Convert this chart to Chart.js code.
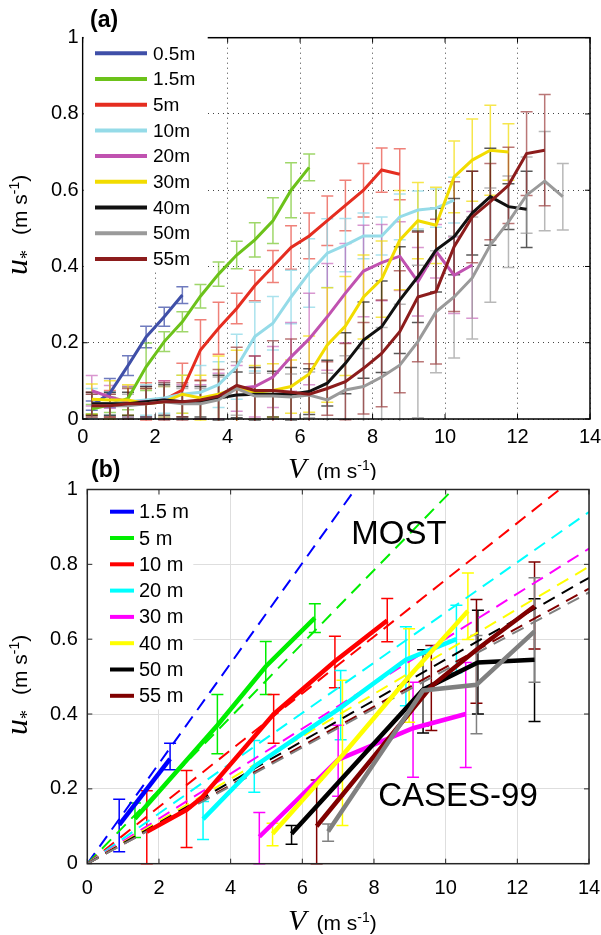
<!DOCTYPE html>
<html>
<head>
<meta charset="utf-8">
<script src="https://cdn.jsdelivr.net/npm/chart.js@4.4.1/dist/chart.umd.min.js"></script>
<style>
  body { margin: 0; background: #fff; }
  #wrap { position: relative; width: 601px; height: 935px; }
  canvas { position: absolute; left: 0; }
  #chartA { top: 0; }
  #chartB { top: 445px; }
</style>
</head>
<body>
<div id="wrap">
  <canvas id="chartA" width="601" height="480"></canvas>
  <canvas id="chartB" width="601" height="490"></canvas>
</div>
<script>
const FONT = '"Liberation Sans", Arial, Helvetica, sans-serif';
const SERIF = '"Liberation Serif", "Times New Roman", serif';

// ---------- panel (a): bin averaged u* vs V ----------
const binV = [0.25, 0.75, 1.25, 1.75, 2.25, 2.75, 3.25, 3.75, 4.25, 4.75, 5.25, 5.75, 6.25, 6.75,
              7.25, 7.75, 8.25, 8.75, 9.25, 9.75, 10.25, 10.75, 11.25, 11.75, 12.25, 12.75, 13.25];
const labelsA = ['0.5m', '1.5m', '5m', '10m', '20m', '30m', '40m', '50m', '55m'];
const colorsA = ['#3f4fa8', '#6cc21a', '#e52d20', '#95dbe8', '#c052b0', '#f2dc00', '#111111', '#9a9a9a', '#8c1c1c'];
const errColorsA = ['rgba(63,79,168,0.75)', 'rgba(108,194,26,0.65)', 'rgba(229,45,32,0.6)', 'rgba(149,219,232,0.8)',
                    'rgba(192,82,176,0.6)', 'rgba(242,220,0,0.7)', 'rgba(17,17,17,0.7)', 'rgba(154,154,154,0.7)', 'rgba(140,28,28,0.6)'];

const u05 = [0.035, 0.068, 0.14, 0.215, 0.268, 0.325];
const e05 = [0.012, 0.038, 0.026, 0.028, 0.025, 0.022];
const u15 = [0.026, 0.037, 0.054, 0.137, 0.203, 0.255, 0.322, 0.38, 0.43, 0.47, 0.52, 0.6, 0.66];
const e15 = [0.012, 0.02, 0.03, 0.062, 0.026, 0.026, 0.031, 0.032, 0.036, 0.045, 0.06, 0.072, 0.035];
const u5  = [0.04, 0.04, 0.045, 0.045, 0.05, 0.076, 0.181, 0.238, 0.29, 0.35, 0.4, 0.45, 0.48, 0.52, 0.56, 0.6, 0.653, 0.642];
const e5  = [0.03, 0.035, 0.04, 0.05, 0.05, 0.07, 0.079, 0.068, 0.04, 0.04, 0.042, 0.057, 0.06, 0.065, 0.066, 0.07, 0.058, 0.067];
const u10 = [0.04, 0.04, 0.045, 0.05, 0.055, 0.065, 0.07, 0.09, 0.137, 0.216, 0.251, 0.32, 0.383, 0.435, 0.456, 0.48, 0.48, 0.53, 0.548, 0.553, 0.574];
const e10 = [0.04, 0.03, 0.04, 0.04, 0.04, 0.05, 0.07, 0.06, 0.085, 0.09, 0.07, 0.07, 0.09, 0.09, 0.07, 0.06, 0.05, 0.06, 0.05, 0.05, 0.06];
const u20 = [0.074, 0.058, 0.045, 0.045, 0.05, 0.045, 0.045, 0.06, 0.08, 0.085, 0.11, 0.163, 0.21, 0.268, 0.33, 0.388, 0.41, 0.427, 0.36, 0.44, 0.377, 0.404];
const e20 = [0.04, 0.03, 0.04, 0.04, 0.05, 0.045, 0.045, 0.06, 0.06, 0.08, 0.08, 0.09, 0.12, 0.14, 0.13, 0.12, 0.1, 0.09, 0.09, 0.07, 0.1, 0.14];
const u30 = [0.052, 0.05, 0.05, 0.04, 0.045, 0.065, 0.055, 0.065, 0.08, 0.07, 0.075, 0.085, 0.118, 0.194, 0.244, 0.32, 0.367, 0.469, 0.52, 0.508, 0.635, 0.679, 0.705, 0.7];
const e30 = [0.04, 0.05, 0.04, 0.04, 0.04, 0.05, 0.06, 0.1, 0.1, 0.07, 0.07, 0.07, 0.1, 0.15, 0.13, 0.11, 0.1, 0.13, 0.1, 0.1, 0.094, 0.108, 0.118, 0.074];
const u40 = [0.04, 0.04, 0.04, 0.045, 0.05, 0.045, 0.045, 0.055, 0.063, 0.065, 0.065, 0.065, 0.072, 0.094, 0.146, 0.207, 0.242, 0.312, 0.373, 0.443, 0.478, 0.54, 0.583, 0.557, 0.55];
const e40 = [0.03, 0.03, 0.03, 0.04, 0.04, 0.04, 0.04, 0.06, 0.06, 0.07, 0.06, 0.07, 0.06, 0.06, 0.08, 0.1, 0.12, 0.14, 0.12, 0.11, 0.1, 0.11, 0.127, 0.06, 0.1];
const u50 = [0.035, 0.035, 0.035, 0.04, 0.045, 0.04, 0.04, 0.05, 0.08, 0.06, 0.06, 0.058, 0.063, 0.05, 0.076, 0.085, 0.11, 0.141, 0.203, 0.281, 0.32, 0.37, 0.456, 0.517, 0.587, 0.624, 0.583];
const e50 = [0.03, 0.03, 0.03, 0.04, 0.04, 0.04, 0.04, 0.06, 0.07, 0.06, 0.06, 0.06, 0.06, 0.07, 0.09, 0.1, 0.13, 0.16, 0.2, 0.16, 0.16, 0.16, 0.15, 0.12, 0.1, 0.13, 0.087];
const u55 = [0.035, 0.035, 0.04, 0.04, 0.045, 0.045, 0.05, 0.06, 0.088, 0.075, 0.075, 0.07, 0.065, 0.08, 0.098, 0.133, 0.172, 0.229, 0.32, 0.334, 0.452, 0.53, 0.57, 0.613, 0.696, 0.705];
const e55 = [0.03, 0.03, 0.04, 0.04, 0.05, 0.05, 0.05, 0.07, 0.1, 0.09, 0.13, 0.14, 0.08, 0.07, 0.1, 0.12, 0.14, 0.16, 0.17, 0.19, 0.17, 0.12, 0.1, 0.1, 0.11, 0.146];

const uA = [u05, u15, u5, u10, u20, u30, u40, u50, u55];
const eA = [e05, e15, e5, e10, e20, e30, e40, e50, e55];

// ---------- panel (b): CASES-99 (solid) and MOST (dashed) ----------
const labelsB = ['1.5 m', '5 m', '10 m', '20 m', '30 m', '40 m', '50 m', '55 m', ''];
const colorsB = ['#0000ff', '#00ee00', '#ff0000', '#00ffff', '#ff00ff', '#ffff00', '#000000', '#800000', '#808080'];

// MOST lines start at the origin; end point where they leave the axes
const mostEndV = [7.47, 10.2, 13.18, 14, 14, 14, 14, 14, 14];
const mostEndU = [1, 1, 1, 0.94, 0.842, 0.794, 0.764, 0.735, 0.725];

const vB15 = [0.89, 2.31];              const uB15 = [0.104, 0.28];
const loB15 = [0.032, 0.251];           const hiB15 = [0.172, 0.322];
const vB5 = [1.33, 3.63, 4.98, 6.35];   const uB5 = [0.12, 0.37, 0.527, 0.657];
const loB5 = [0.07, 0.294, 0.452, 0.618]; const hiB5 = [0.162, 0.452, 0.594, 0.695];
const vB10 = [1.66, 2.77, 3.2, 5.2, 6.91, 8.37]; const uB10 = [0.085, 0.144, 0.177, 0.4, 0.541, 0.65];
const loB10 = [0, 0.043, null, 0.322, 0.47, 0.593]; const hiB10 = [0.195, 0.249, null, 0.452, 0.608, 0.709];
const vB20 = [3.23, 4.66, 7.07, 8.89, 10.3]; const uB20 = [0.119, 0.26, 0.417, 0.545, 0.6];
const loB20 = [0.065, 0.191, 0.331, 0.422, 0.51]; const hiB20 = [0.166, 0.329, 0.516, 0.633, 0.691];
const vB30 = [4.8, 7.0, 9.09, 10.56];   const uB30 = [0.072, 0.278, 0.362, 0.4];
const loB30 = [0, 0.18, 0.231, 0.257];  const hiB30 = [0.137, 0.37, 0.485, 0.538];
const vB40 = [5.17, 7.12, 8.98, 10.62]; const uB40 = [0.08, 0.29, 0.5, 0.675];
const loB40 = [0.048, 0.102, 0.378, 0.599]; const hiB40 = [0.108, 0.49, 0.628, 0.777];
const vB50 = [5.7, 9.37, 10.9, 12.48];  const uB50 = [0.08, 0.465, 0.538, 0.545];
const loB50 = [0.052, 0.349, 0.4, 0.38]; const hiB50 = [0.102, 0.572, 0.677, 0.708];
const vB55 = [6.4, 9.6, 10.86, 12.48];  const uB55 = [0.1, 0.474, 0.572, 0.688];
const loB55 = [0, 0.356, 0.429, 0.574]; const hiB55 = [0.224, 0.583, 0.706, 0.806];
const vBg = [6.72, 9.37, 10.86, 12.48]; const uBg = [0.086, 0.463, 0.478, 0.621];
const loBg = [0.06, 0.367, 0.347, 0.485]; const hiBg = [0.106, 0.559, 0.61, 0.764];

const vB = [vB15, vB5, vB10, vB20, vB30, vB40, vB50, vB55, vBg];
const uB = [uB15, uB5, uB10, uB20, uB30, uB40, uB50, uB55, uBg];
const loB = [loB15, loB5, loB10, loB20, loB30, loB40, loB50, loB55, loBg];
const hiB = [hiB15, hiB5, hiB10, hiB20, hiB30, hiB40, hiB50, hiB55, hiBg];

const xTicks = [0, 2, 4, 6, 8, 10, 12, 14];
const yTicks = [0, 0.2, 0.4, 0.6, 0.8, 1];

Chart.defaults.font.family = FONT;
Chart.defaults.color = '#000';

// error bars, drawn under the lines
const errorBars = {
  id: 'errorBars',
  beforeDatasetsDraw(chart) {
    const { ctx, chartArea: a, scales: { x, y } } = chart;
    ctx.save();
    ctx.beginPath();
    ctx.rect(a.left, a.top - 2, a.right - a.left, a.bottom - a.top + 4);
    ctx.clip();
    chart.data.datasets.forEach(ds => {
      if (!ds.err && !ds.errLo) return;
      ctx.strokeStyle = ds.errColor || ds.borderColor;
      ctx.lineWidth = 1.5;
      ds.data.forEach((p, j) => {
        let lo, hi;
        if (ds.err) { lo = p.y - ds.err[j]; hi = p.y + ds.err[j]; }
        else { lo = ds.errLo[j]; hi = ds.errHi[j]; }
        if (lo == null) return;
        const px = x.getPixelForValue(p.x);
        const y1 = y.getPixelForValue(lo), y2 = y.getPixelForValue(hi);
        ctx.beginPath();
        ctx.moveTo(px, y1); ctx.lineTo(px, y2);
        ctx.moveTo(px - 6, y1); ctx.lineTo(px + 6, y1);
        ctx.moveTo(px - 6, y2); ctx.lineTo(px + 6, y2);
        ctx.stroke();
      });
    });
    ctx.restore();
  }
};

function drawFrame(chart, color, width, tickLen) {
  const { ctx, chartArea: a, scales: { x, y } } = chart;
  ctx.save();
  ctx.strokeStyle = color;
  ctx.lineWidth = width;
  ctx.strokeRect(a.left, a.top, a.right - a.left, a.bottom - a.top);
  ctx.lineWidth = 1;
  ctx.beginPath();
  xTicks.forEach(v => {
    const px = x.getPixelForValue(v);
    ctx.moveTo(px, a.bottom); ctx.lineTo(px, a.bottom - tickLen);
    ctx.moveTo(px, a.top); ctx.lineTo(px, a.top + tickLen);
  });
  yTicks.forEach(v => {
    const py = y.getPixelForValue(v);
    ctx.moveTo(a.left, py); ctx.lineTo(a.left + tickLen, py);
    ctx.moveTo(a.right, py); ctx.lineTo(a.right - tickLen, py);
  });
  ctx.stroke();
  ctx.restore();
}

// "V (m s-1)" with italic V and superscript
function xTitle(ctx, vx, restX, base) {
  ctx.save();
  ctx.fillStyle = '#000';
  ctx.textBaseline = 'alphabetic';
  ctx.textAlign = 'left';
  ctx.font = 'italic 30px ' + SERIF;
  ctx.fillText('V', vx, base);
  let cx = restX;
  ctx.font = '21px ' + FONT;
  ctx.fillText('(m s', cx, base); cx += ctx.measureText('(m s').width;
  ctx.font = '14px ' + FONT;
  ctx.fillText('-1', cx, base - 8); cx += ctx.measureText('-1').width;
  ctx.font = '21px ' + FONT;
  ctx.fillText(')', cx, base);
  ctx.restore();
}

// "u* (m s-1)" rotated, reading upward from (bx, startY)
function yTitle(ctx, bx, startY) {
  ctx.save();
  ctx.translate(bx, startY);
  ctx.rotate(-Math.PI / 2);
  ctx.fillStyle = '#000';
  ctx.textBaseline = 'alphabetic';
  ctx.textAlign = 'left';
  ctx.font = 'italic 32px ' + SERIF;
  ctx.fillText('u', 0, 0);
  let cx = ctx.measureText('u').width;
  ctx.font = '18px ' + SERIF;
  ctx.fillText('*', cx, 6);
  cx = 40;
  ctx.font = '21px ' + FONT;
  ctx.fillText('(m s', cx, 0); cx += ctx.measureText('(m s').width;
  ctx.font = '14px ' + FONT;
  ctx.fillText('-1', cx, -8); cx += ctx.measureText('-1').width;
  ctx.font = '21px ' + FONT;
  ctx.fillText(')', cx, 0);
  ctx.restore();
}

const decorA = {
  id: 'decorA',
  afterDraw(chart) {
    const { ctx, chartArea: a } = chart;
    drawFrame(chart, '#000', 1.5, 5);
    // legend sits over the top-left of the axes
    ctx.save();
    ctx.fillStyle = '#fff';
    ctx.fillRect(a.left + 1, a.top - 2, 124, 234);
    ctx.textBaseline = 'middle';
    ctx.textAlign = 'left';
    ctx.font = '19px ' + FONT;
    labelsA.forEach((lab, i) => {
      const yy = 53.3 + i * 25.7;
      ctx.strokeStyle = colorsA[i];
      ctx.lineWidth = 4;
      ctx.beginPath(); ctx.moveTo(95, yy); ctx.lineTo(147, yy); ctx.stroke();
      ctx.fillStyle = '#000';
      ctx.fillText(lab, 153, yy + 1);
    });
    ctx.font = 'bold 23px ' + FONT;
    ctx.textBaseline = 'alphabetic';
    ctx.fillText('(a)', 90, 27);
    ctx.restore();
    xTitle(ctx, 288, 316.5, 478);
    yTitle(ctx, 27, 275);
  }
};

const decorB = {
  id: 'decorB',
  afterDraw(chart) {
    const { ctx, chartArea: a } = chart;
    ctx.save();
    ctx.fillStyle = '#fff';
    ctx.fillRect(a.left + 1, a.top + 1, 105, 219);
    ctx.restore();
    drawFrame(chart, '#262626', 1.5, 5);
    ctx.save();
    ctx.textBaseline = 'middle';
    ctx.textAlign = 'left';
    ctx.font = '20px ' + FONT;
    labelsB.slice(0, 8).forEach((lab, i) => {
      const yy = 66.7 + i * 26.3;
      ctx.strokeStyle = colorsB[i];
      ctx.lineWidth = 4;
      ctx.beginPath(); ctx.moveTo(110, yy); ctx.lineTo(134, yy); ctx.stroke();
      ctx.fillStyle = '#000';
      ctx.fillText(lab, 139, yy + 1);
    });
    ctx.font = '33px ' + FONT;
    ctx.textAlign = 'center';
    ctx.fillText('MOST', 399, 90);
    ctx.fillText('CASES-99', 458, 352);
    ctx.font = 'bold 23px ' + FONT;
    ctx.textAlign = 'left';
    ctx.textBaseline = 'alphabetic';
    ctx.fillText('(b)', 91, 32);
    ctx.restore();
    xTitle(ctx, 288, 316.5, 485);
    yTitle(ctx, 27, 290);
  }
};

function axisOpts(isX, gridColor, dash, tickPad, size) {
  return {
    type: 'linear',
    min: 0,
    max: isX ? 14 : 1,
    ticks: {
      stepSize: isX ? 2 : 0.2,
      font: { size: 20 },
      color: '#000',
      padding: tickPad,
      maxRotation: 0,
      autoSkip: false,
      callback: v => String(Math.round(v * 10) / 10)
    },
    grid: { color: gridColor, lineWidth: 1, drawTicks: false },
    border: { display: false, dash: dash },
    afterFit(scale) {
      if (isX) scale.height = size; else scale.width = size;
      // keep the plot area where the layout padding puts it
      scale.paddingLeft = 0; scale.paddingRight = 0;
      scale.paddingTop = 0; scale.paddingBottom = 0;
    }
  };
}

const datasetsA = labelsA.map((lab, i) => ({
  label: lab,
  data: uA[i].map((u, j) => ({ x: binV[j], y: u })),
  err: eA[i],
  errColor: errColorsA[i],
  borderColor: colorsA[i],
  borderWidth: 3,
  pointRadius: 0,
  fill: false,
  tension: 0,
  order: labelsA.length - i
}));

new Chart(document.getElementById('chartA'), {
  type: 'line',
  data: { datasets: datasetsA },
  options: {
    responsive: false,
    animation: false,
    layout: { padding: { left: 0, right: 11, top: 37.7, bottom: 0 } },
    plugins: { legend: { display: false }, tooltip: { enabled: false } },
    scales: {
      x: axisOpts(true, '#444', [1, 4], 6, 61),
      y: axisOpts(false, '#444', [1, 4], 4, 82.7)
    }
  },
  plugins: [errorBars, decorA]
});

const mostSets = colorsB.map((c, i) => ({
  label: 'MOST ' + labelsB[i],
  data: [{ x: 0, y: 0 }, { x: mostEndV[i], y: mostEndU[i] }],
  borderColor: c,
  borderWidth: 2,
  borderDash: [13, 8],
  pointRadius: 0,
  fill: false,
  tension: 0,
  order: 30 - i
}));
const casesSets = colorsB.map((c, i) => ({
  label: 'CASES-99 ' + labelsB[i],
  data: uB[i].map((u, j) => ({ x: vB[i][j], y: u })),
  errLo: loB[i],
  errHi: hiB[i],
  borderColor: c,
  borderWidth: 4.5,
  pointRadius: 0,
  fill: false,
  tension: 0,
  order: 10 - i
}));

new Chart(document.getElementById('chartB'), {
  type: 'line',
  data: { datasets: mostSets.concat(casesSets) },
  options: {
    responsive: false,
    animation: false,
    layout: { padding: { left: 0, right: 12, top: 44.5, bottom: 0 } },
    plugins: { legend: { display: false }, tooltip: { enabled: false } },
    scales: {
      x: axisOpts(true, '#dedede', [], 13, 71.3),
      y: axisOpts(false, '#dedede', [], 9.5, 87.3)
    }
  },
  plugins: [errorBars, decorB]
});
</script>
</body>
</html>
